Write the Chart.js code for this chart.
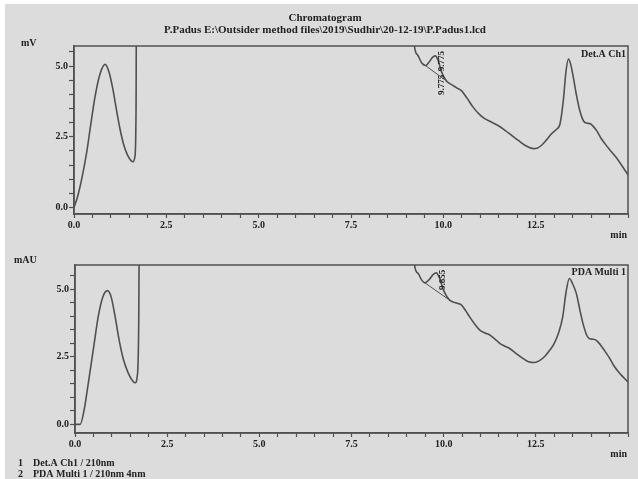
<!DOCTYPE html>
<html>
<head>
<meta charset="utf-8">
<script src="https://cdn.jsdelivr.net/npm/chart.js@4.4.1/dist/chart.umd.min.js"></script>
<style>
    body { margin: 0; background: #ffffff; }
    #sheet { position: absolute; left: 5px; top: 4px; width: 633px; height: 475px; background: #dcdcdc; }
    canvas { position: absolute; left: 0; }
    #chart1 { top: 0; }
    #chart2 { top: 240px; }
</style>
</head>
<body>
<div id="sheet"></div>
<canvas id="chart1" width="638" height="240"></canvas>
<canvas id="chart2" width="638" height="239"></canvas>
<script>
// Det.A Ch1 (mV) — retention time in min / signal
const detTime = [0, 0.1, 0.2, 0.34, 0.45, 0.57, 0.7, 0.84, 0.95, 1.05, 1.15, 1.25, 1.35, 1.45, 1.55, 1.6, 1.65, 1.68, 1.7, 9.1,
    9.2, 9.3, 9.42, 9.52, 9.62, 9.7, 9.78, 9.86, 9.95, 10.08, 10.2, 10.35, 10.49, 10.65, 10.81, 10.97, 11.12, 11.3, 11.48, 11.67,
    11.85, 12.03, 12.21, 12.44, 12.55, 12.66, 12.8, 12.93, 13.05, 13.16, 13.25, 13.32, 13.39, 13.45, 13.52, 13.6, 13.7, 13.8, 13.9, 13.98,
    14.07, 14.16, 14.27, 14.38, 14.5, 14.66, 14.85, 15];
const detSignal = [0, 0.4, 0.95, 1.92, 2.9, 3.92, 4.7, 5.06, 4.78, 4.2, 3.45, 2.75, 2.2, 1.85, 1.65, 1.62, 1.8, 3.5, 12, 12,
    5.9, 5.4, 5.1, 5.02, 5.15, 5.3, 5.36, 5.2, 4.8, 4.48, 4.36, 4.24, 4.13, 3.85, 3.54, 3.3, 3.14, 3.02, 2.9, 2.73,
    2.55, 2.37, 2.2, 2.08, 2.1, 2.2, 2.4, 2.61, 2.75, 2.96, 3.8, 4.8, 5.25, 5.05, 4.6, 4.0, 3.4, 3.05, 2.98, 2.96,
    2.85, 2.7, 2.45, 2.25, 2.05, 1.8, 1.45, 1.15];
const detBaseTime = [9.45, 10.08];
const detBaseSignal = [5.08, 4.48];

// PDA Multi 1 (mAU)
const pdaTime = [0, 0.14, 0.25, 0.36, 0.5, 0.63, 0.75, 0.88, 0.98, 1.08, 1.2, 1.31, 1.45, 1.57, 1.63, 1.69, 1.73, 1.76, 9.1, 9.21,
    9.3, 9.4, 9.49, 9.6, 9.72, 9.8, 9.88, 10.0, 10.16, 10.32, 10.48, 10.6, 10.7, 10.85, 10.98, 11.12, 11.25, 11.4, 11.52, 11.65,
    11.79, 11.97, 12.15, 12.3, 12.47, 12.6, 12.74, 12.88, 13.0, 13.12, 13.23, 13.32, 13.41, 13.5, 13.6, 13.7, 13.78, 13.88, 13.96, 14.05,
    14.14, 14.25, 14.36, 14.5, 14.63, 14.8, 15];
const pdaSignal = [0, 0, 0.55, 1.52, 2.8, 3.99, 4.7, 4.95, 4.72, 4.05, 3.1, 2.42, 1.88, 1.6, 1.54, 1.8, 4, 12, 12, 5.9,
    5.6, 5.35, 5.24, 5.35, 5.55, 5.61, 5.45, 4.95, 4.6, 4.5, 4.42, 4.2, 3.99, 3.7, 3.49, 3.38, 3.31, 3.15, 3.0, 2.9,
    2.81, 2.62, 2.44, 2.32, 2.29, 2.36, 2.51, 2.75, 3.0, 3.4, 3.99, 4.9, 5.4, 5.2, 4.84, 4.2, 3.73, 3.3, 3.17, 3.15,
    3.11, 2.95, 2.74, 2.45, 2.14, 1.85, 1.57];
const pdaBaseTime = [9.49, 10.16];
const pdaBaseSignal = [5.24, 4.6];

// axis ticks
const xTicks = [0, 0.5, 1, 1.5, 2, 2.5, 3, 3.5, 4, 4.5, 5, 5.5, 6, 6.5, 7, 7.5, 8, 8.5, 9, 9.5,
    10, 10.5, 11, 11.5, 12, 12.5, 13, 13.5, 14, 14.5, 15];
const xMajor = [0, 2.5, 5, 7.5, 10, 12.5];
const xLabels = ['0.0', '2.5', '5.0', '7.5', '10.0', '12.5'];
const yTicks = [0, 0.5, 1, 1.5, 2, 2.5, 3, 3.5, 4, 4.5, 5, 5.5];
const yMajor = [0, 2.5, 5];
const yLabels = ['0.0', '2.5', '5.0'];

const INK = '#222222';
const LINE = '#505050';
const tickFont = { family: 'Liberation Serif', size: 10, weight: 'bold' };

function toPoints(xs, ys) {
    return xs.map((x, i) => ({ x: x, y: ys[i] }));
}

function buildScales(yMin, yMax, yWidth, xHeight) {
    return {
        x: {
            type: 'linear', min: 0, max: 15,
            afterBuildTicks: s => { s.ticks = xTicks.map(v => ({ value: v })); },
            afterFit: s => { s.height = xHeight; },
            ticks: {
                autoSkip: false, maxRotation: 0, color: INK, font: tickFont, padding: 1,
                callback: v => { const i = xMajor.indexOf(v); return i >= 0 ? xLabels[i] : ''; }
            },
            grid: { drawOnChartArea: false, tickLength: 4, color: LINE, tickWidth: 1.2 },
            border: { color: LINE, width: 1.5 }
        },
        y: {
            type: 'linear', min: yMin, max: yMax,
            afterBuildTicks: s => { s.ticks = yTicks.map(v => ({ value: v })); },
            afterFit: s => { s.width = yWidth; },
            ticks: {
                autoSkip: false, color: INK, font: tickFont, padding: 1,
                callback: v => { const i = yMajor.indexOf(v); return i >= 0 ? yLabels[i] : ''; }
            },
            grid: { drawOnChartArea: false, tickLength: 5, color: LINE, tickWidth: 1.2 },
            border: { color: LINE, width: 1.5 }
        }
    };
}

// frame around the plot plus the free text of the report
const decor = {
    id: 'decor',
    afterDraw(chart, args, opts) {
        const { ctx, chartArea: a } = chart;
        ctx.save();
        ctx.strokeStyle = LINE;
        ctx.lineWidth = 1.5;
        ctx.strokeRect(a.left, a.top, a.right - a.left, a.bottom - a.top);
        ctx.fillStyle = INK;
        ctx.textBaseline = 'alphabetic';
        opts.texts.forEach(t => {
            ctx.font = t.font;
            ctx.textAlign = t.align || 'left';
            ctx.fillText(t.text, t.x, t.y);
        });
        // retention time labels, rotated
        opts.peaks.forEach(p => {
            const x = chart.scales.x.getPixelForValue(p.t) + p.dx;
            const y = chart.scales.y.getPixelForValue(p.v);
            ctx.save();
            ctx.translate(x, y);
            ctx.rotate(-Math.PI / 2);
            ctx.font = 'bold 9px "Liberation Serif"';
            ctx.textAlign = 'left';
            ctx.fillText(p.text, 0, 0);
            ctx.restore();
        });
        ctx.restore();
    }
};

function lineSet(points, width) {
    return {
        data: points,
        borderColor: LINE,
        borderWidth: width,
        pointRadius: 0,
        cubicInterpolationMode: 'monotone',
        fill: false
    };
}

const head = 'bold 11px "Liberation Serif"';
const small = 'bold 10px "Liberation Serif"';

new Chart(document.getElementById('chart1'), {
    type: 'line',
    data: {
        datasets: [
            lineSet(toPoints(detTime, detSignal), 1.6),
            lineSet(toPoints(detBaseTime, detBaseSignal), 1)
        ]
    },
    options: {
        responsive: false,
        animation: false,
        devicePixelRatio: 1,
        layout: { padding: { top: 46, right: 10, left: 0, bottom: 0 } },
        scales: buildScales(-0.23, 5.71, 74, 26),
        plugins: {
            legend: { display: false },
            tooltip: { enabled: false },
            decor: {
                texts: [
                    { text: 'Chromatogram', x: 325, y: 21, font: head, align: 'center' },
                    { text: 'P.Padus E:\\Outsider method files\\2019\\Sudhir\\20-12-19\\P.Padus1.lcd', x: 325, y: 33, font: head, align: 'center' },
                    { text: 'mV', x: 21, y: 46, font: small },
                    { text: 'Det.A Ch1', x: 626, y: 57, font: small, align: 'right' },
                    { text: 'min', x: 627, y: 238, font: small, align: 'right' }
                ],
                peaks: [
                    { t: 9.775, v: 3.98, dx: 9, text: '9.775' },
                    { t: 9.775, v: 4.82, dx: 9, text: '9.775' }
                ]
            }
        }
    },
    plugins: [decor]
});

new Chart(document.getElementById('chart2'), {
    type: 'line',
    data: {
        datasets: [
            lineSet(toPoints(pdaTime, pdaSignal), 1.6),
            lineSet(toPoints(pdaBaseTime, pdaBaseSignal), 1)
        ]
    },
    options: {
        responsive: false,
        animation: false,
        devicePixelRatio: 1,
        layout: { padding: { top: 25, right: 10, left: 0, bottom: 0 } },
        scales: buildScales(-0.32, 5.9, 75, 46),
        plugins: {
            legend: { display: false },
            tooltip: { enabled: false },
            decor: {
                texts: [
                    { text: 'mAU', x: 14, y: 23, font: small },
                    { text: 'PDA Multi 1', x: 626, y: 35, font: small, align: 'right' },
                    { text: 'min', x: 627, y: 217, font: small, align: 'right' },
                    { text: '1', x: 18, y: 226, font: small },
                    { text: 'Det.A Ch1 / 210nm', x: 33, y: 226, font: small },
                    { text: '2', x: 18, y: 237, font: small },
                    { text: 'PDA Multi 1 / 210nm 4nm', x: 33, y: 237, font: small }
                ],
                peaks: [
                    { t: 9.855, v: 4.97, dx: 7, text: '9.855' }
                ]
            }
        }
    },
    plugins: [decor]
});
</script>
</body>
</html>
